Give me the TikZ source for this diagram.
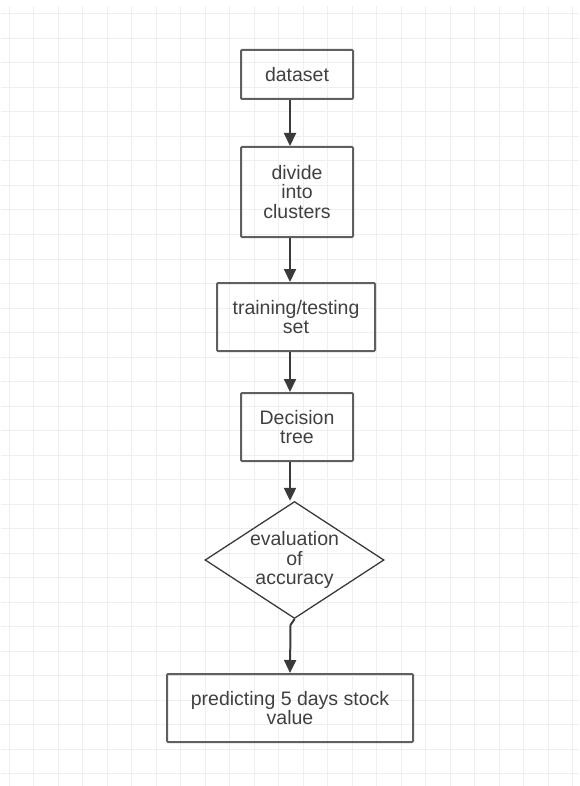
\documentclass[tikz,border=0pt]{standalone}
\usepackage{fontspec}
\setmainfont{Liberation Sans}
\usetikzlibrary{shapes.geometric,arrows.meta}
\definecolor{gridgray}{HTML}{EFEFEF}
\definecolor{boxgray}{HTML}{5F5F5F}
\definecolor{linegray}{HTML}{3A3A3A}
\definecolor{textgray}{HTML}{404040}

\begin{document}
\begin{tikzpicture}[x=1pt,y=-1pt,
            every node/.style={font=\fontsize{19.5}{19.5}\selectfont,text=textgray,align=center,inner sep=0pt},
            stage/.style={draw=boxgray,line width=2pt,rounded corners=1pt},
            check/.style={draw=linegray,line width=1.3pt,diamond,aspect=1.53,minimum width=179pt,minimum height=117pt},
            flow/.style={-{Triangle[length=13pt,width=12pt]},draw=linegray,line width=2pt}]
                \useasboundingbox (0,0) rectangle (579,786);
                \foreach \k in {0,...,23}
                    \draw[gridgray,line width=1pt] (9+24.5*\k,6) -- (9+24.5*\k,786);
                \foreach \k in {0,...,31}
                    \draw[gridgray,line width=1pt] (1,14+24.5*\k) -- (579,14+24.5*\k);

                \node[stage,minimum width=112pt,minimum height=49pt] (dataset) at (297,74.5) {dataset};
                \node[stage,minimum width=112pt,minimum height=90pt] (divide) at (297,192) {divide\\into\\clusters};
                \node[stage,minimum width=158pt,minimum height=68pt] (split) at (296,317) {training/testing\\set};
                \node[stage,minimum width=112pt,minimum height=68pt] (tree) at (297,427) {Decision\\tree};
                \node[check] (eval) at (294.5,560) {evaluation\\of\\accuracy};
                \node[stage,minimum width=246pt,minimum height=68pt] (predict) at (290,708) {predicting 5 days stock\\value};

            \begin{scope}[flow]
                \coordinate (spine) at (290,0);
                \coordinate (bend) at (290.5,625);
                \draw (spine |- dataset.south) -- (spine |- divide.north);
                \draw (spine |- divide.south) -- (spine |- split.north);
                \draw (spine |- split.south) -- (spine |- tree.north);
                \draw (spine |- tree.south) -- (spine |- eval.north);
                \draw (eval.south) -- (bend) -- (spine |- predict.north);
            \end{scope}
        \end{tikzpicture}
\end{document}
